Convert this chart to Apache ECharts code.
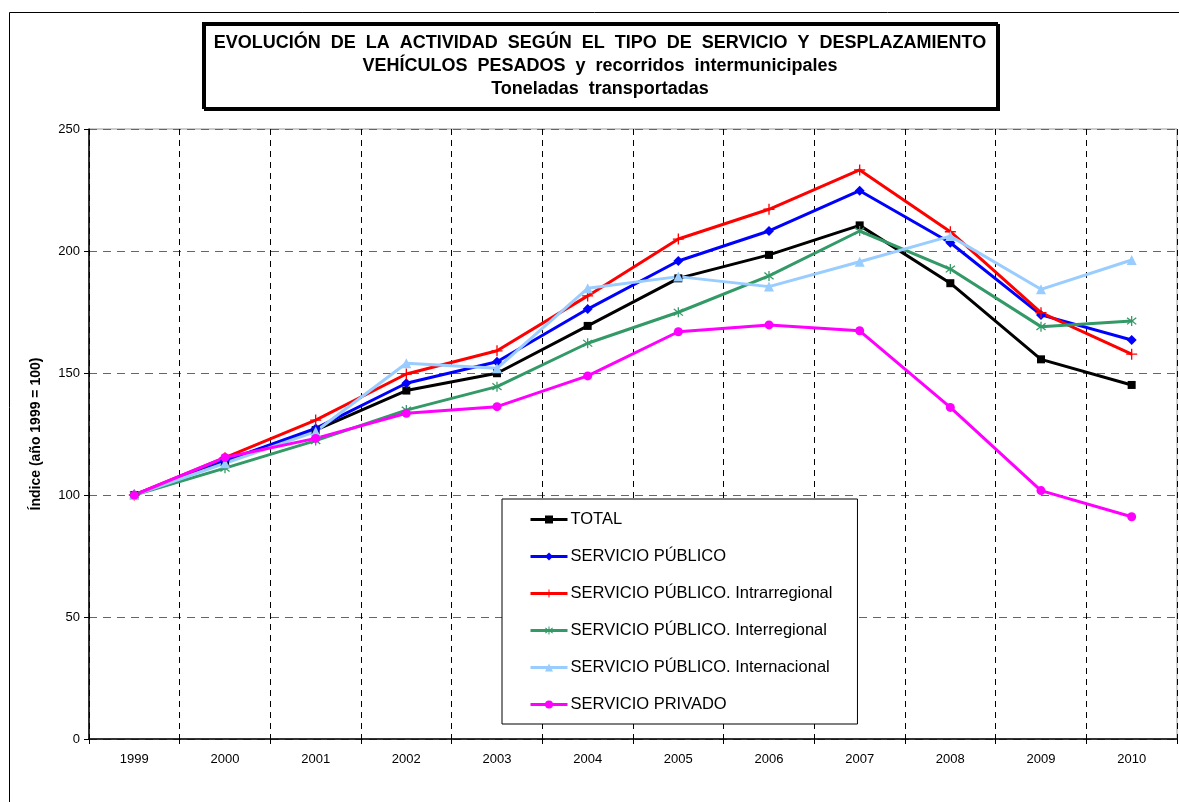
<!DOCTYPE html>
<html>
<head>
<meta charset="utf-8">
<script src="https://cdn.jsdelivr.net/npm/echarts@6/dist/echarts.min.js"></script>
<style>
  html, body { margin: 0; padding: 0; background: #fff; }
  #chart { width: 1179px; height: 802px; }
</style>
</head>
<body>
<div id="chart"></div>
<script>
  const years = ['1999', '2000', '2001', '2002', '2003', '2004', '2005', '2006', '2007', '2008', '2009', '2010']
  const yTicks = { min: 0, max: 250, step: 50 }

  const total = [100, 114, 126.6, 142.8, 149.9, 169.3, 188.8, 198.4, 210.5, 186.8, 155.6, 145.1]
  const publico = [100, 114, 127.3, 145.8, 154.6, 176.2, 195.9, 208.2, 224.7, 203.4, 173.8, 163.5]
  const intrarregional = [100, 115.3, 130.7, 149.6, 159.1, 181.6, 204.9, 217.1, 233.2, 207.9, 174.7, 157.7]
  const interregional = [100, 111, 122.3, 134.8, 144.4, 162.2, 174.9, 189.8, 208.2, 192.6, 169, 171.3]
  const internacional = [100, 113, 126, 154, 151.9, 184.7, 189.5, 185.4, 195.6, 206.1, 184.3, 196.3]
  const privado = [100, 115.4, 123.2, 133.5, 136.2, 148.8, 166.9, 169.7, 167.3, 135.9, 101.8, 91.1]

  const titleLines = [
    'EVOLUCIÓN  DE  LA  ACTIVIDAD  SEGÚN  EL  TIPO  DE  SERVICIO  Y  DESPLAZAMIENTO',
    'VEHÍCULOS  PESADOS  y  recorridos  intermunicipales',
    'Toneladas  transportadas'
  ]

  // marcadores tipo Excel
  const plusSymbol = 'path://M4.4,0 L5.6,0 L5.6,4.4 L10,4.4 L10,5.6 L5.6,5.6 L5.6,10 L4.4,10 L4.4,5.6 L0,5.6 L0,4.4 L4.4,4.4 Z'
  const starSymbol = 'path://M4.4,0 L5.6,0 L5.6,4 L8.9,1.2 L9.7,2.1 L6.3,5 L9.7,7.9 L8.9,8.8 L5.6,6 L5.6,10 L4.4,10 L4.4,6 L1.1,8.8 L0.3,7.9 L3.7,5 L0.3,2.1 L1.1,1.2 L4.4,4 Z'

  const makeSeries = (name, data, color, symbol, size) => ({
    name,
    type: 'line',
    data,
    symbol,
    symbolSize: size,
    showAllSymbol: true,
    lineStyle: { color, width: 3 },
    itemStyle: { color, borderWidth: 0 },
    emphasis: { disabled: true }
  })

  const myChart = echarts.init(document.getElementById('chart'), null, { renderer: 'canvas' })

  const option = {
    animation: false,
    backgroundColor: '#fff',
    textStyle: { fontFamily: 'Liberation Sans, Arial, sans-serif', color: '#000' },
    title: {
      text: titleLines.join('\n'),
      left: 589,
      top: 23,
      textAlign: 'center',
      padding: [9, 11, 7, 11],
      borderColor: '#000',
      borderWidth: 2,
      shadowColor: '#000',
      shadowOffsetX: 2,
      shadowOffsetY: 2,
      shadowBlur: 0,
      backgroundColor: '#fff',
      textStyle: {
        fontFamily: 'Liberation Sans, Arial, sans-serif',
        fontSize: 18,
        fontWeight: 'bold',
        lineHeight: 23,
        color: '#000'
      }
    },
    graphic: [
      {
        type: 'rect',
        left: 7,
        top: 10,
        shape: { width: 1200, height: 820 },
        style: { fill: 'none', stroke: '#000', lineWidth: 1 },
        z: -1,
        silent: true
      }
    ],
    legend: {
      orient: 'vertical',
      left: 502,
      top: 499,
      padding: [12, 25, 11, 27],
      itemGap: 20,
      itemWidth: 37,
      itemHeight: 10,
      backgroundColor: '#fff',
      borderColor: '#000',
      borderWidth: 1,
      lineStyle: { width: 3 },
      textStyle: { fontSize: 16.5, color: '#000', padding: [0, 0, 0, -2] },
      selectedMode: false
    },
    grid: {
      left: 89,
      right: 2,
      top: 129,
      bottom: 63,
      show: true,
      borderColor: '#999',
      borderWidth: 1
    },
    xAxis: {
      type: 'category',
      data: years,
      boundaryGap: true,
      axisLine: { lineStyle: { color: '#000', width: 1.5 } },
      axisTick: { show: true, length: 5, lineStyle: { color: '#000' } },
      axisLabel: { fontSize: 13, color: '#000', margin: 14 },
      splitLine: { show: true, lineStyle: { color: '#000', type: [6, 5], width: 1 } }
    },
    yAxis: {
      type: 'value',
      min: yTicks.min,
      max: yTicks.max,
      interval: yTicks.step,
      name: 'Índice (año 1999 = 100)',
      nameLocation: 'middle',
      nameGap: 46,
      nameTextStyle: { fontSize: 14, fontWeight: 'bold', color: '#000' },
      axisLine: { show: true, lineStyle: { color: '#000', width: 1.5 } },
      axisTick: { show: true, length: 5, lineStyle: { color: '#000' } },
      axisLabel: { fontSize: 13, color: '#000', margin: 9 },
      splitLine: { show: true, lineStyle: { color: '#666', type: [8, 6], width: 1 } }
    },
    series: [
      makeSeries('TOTAL', total, '#000000', 'rect', 8),
      makeSeries('SERVICIO PÚBLICO', publico, '#0000ff', 'diamond', 10),
      makeSeries('SERVICIO PÚBLICO. Intrarregional', intrarregional, '#ff0000', plusSymbol, 11),
      makeSeries('SERVICIO PÚBLICO. Interregional', interregional, '#339966', starSymbol, 10),
      makeSeries('SERVICIO PÚBLICO. Internacional', internacional, '#99ccff', 'triangle', 10),
      makeSeries('SERVICIO PRIVADO', privado, '#ff00ff', 'circle', 9)
    ]
  }

  myChart.setOption(option)
</script>
</body>
</html>
